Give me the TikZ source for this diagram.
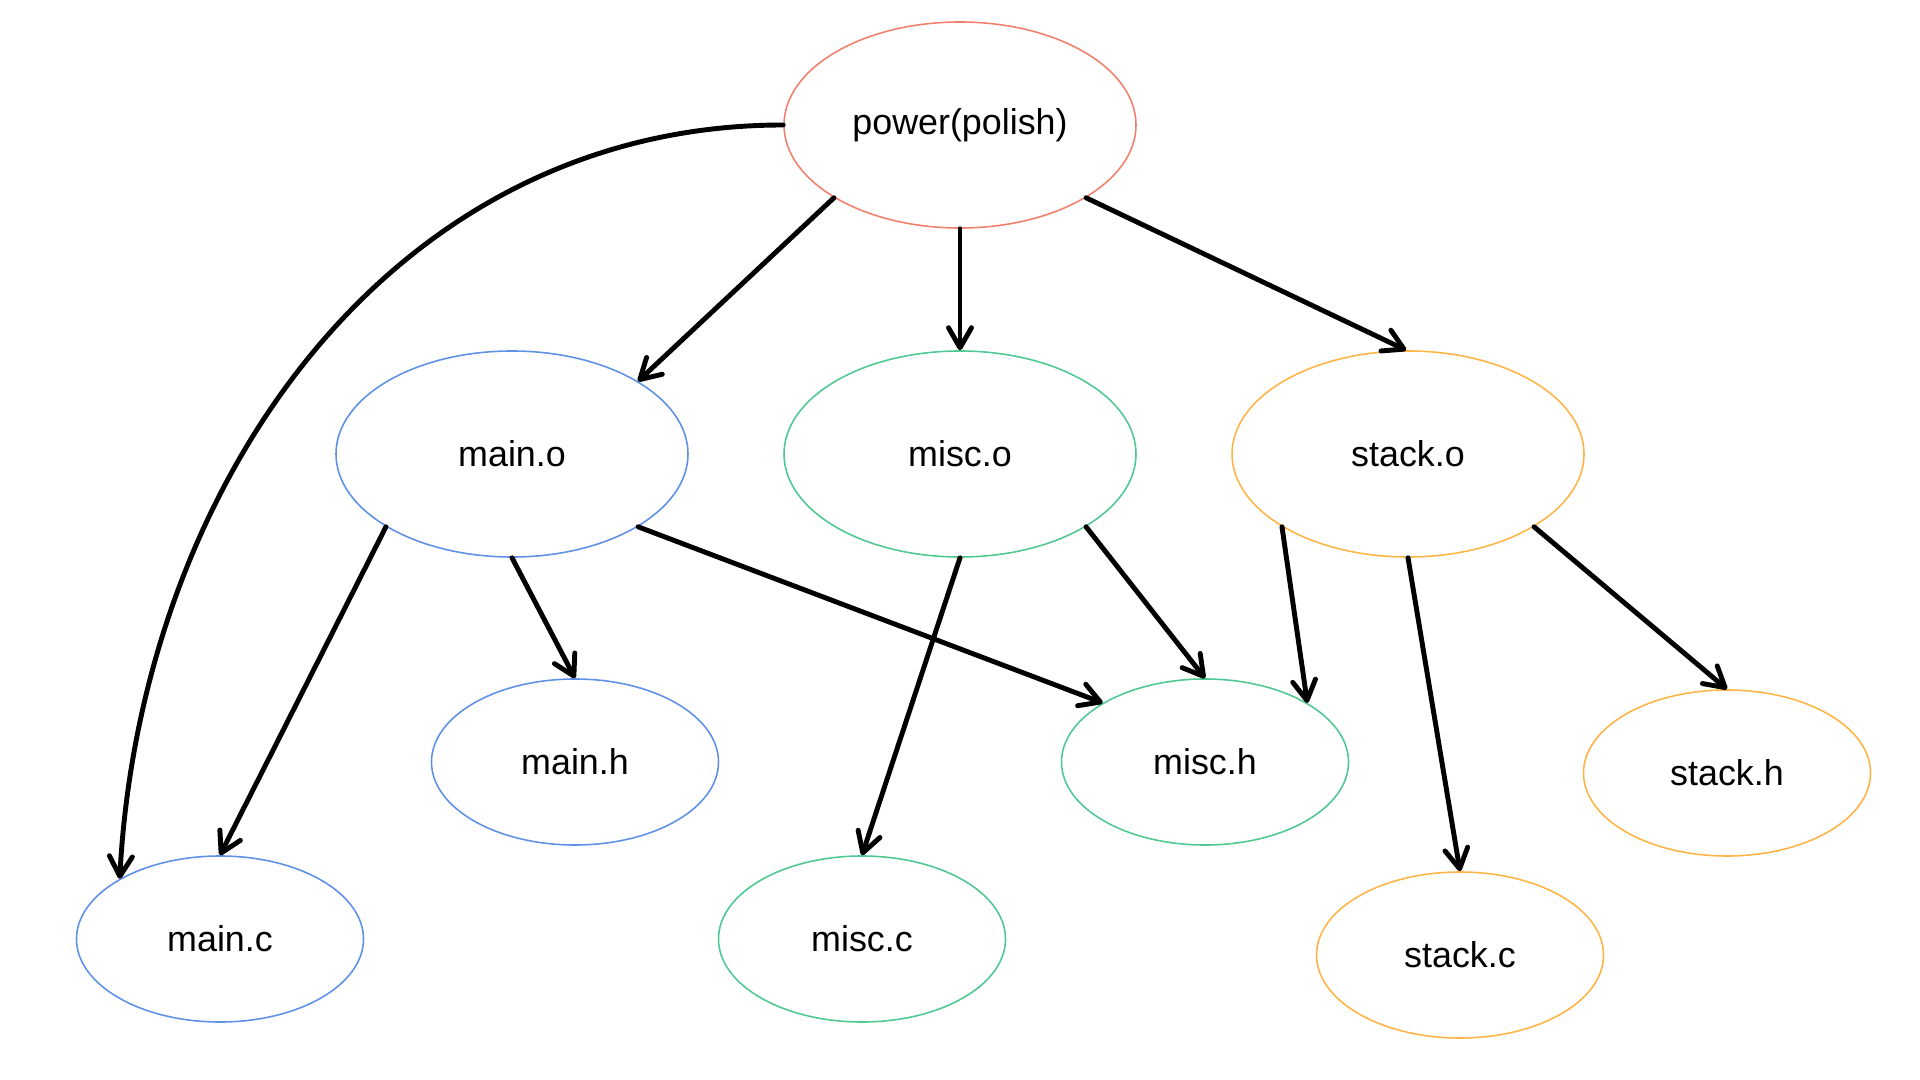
\documentclass[tikz,border=0pt]{standalone}
\usepackage{fontspec}
\setmainfont{Liberation Sans}
\usepackage{xcolor}
\usepackage{tikz}
\usetikzlibrary{shapes.geometric}
\usetikzlibrary{arrows.meta}
\definecolor{topred}{RGB}{240,128,110}
\definecolor{mainblue}{RGB}{95,145,230}
\definecolor{miscgreen}{RGB}{80,200,145}
\definecolor{stackorange}{RGB}{255,180,70}

\begin{document}
\begin{tikzpicture}[bignode/.style={ellipse,draw,line width=0.45pt,inner sep=0pt,minimum width=3.52cm,minimum height=2.06cm,font=\fontsize{10.2}{12}\selectfont},
	leaf/.style={bignode,minimum width=2.87cm,minimum height=1.66cm},
	dep/.style={->,line width=1.4pt,line cap=round},
	>={Straight Barb[length=2mm,width=2.3mm,round]}]
	 \useasboundingbox (0,0) rectangle (19.2,-10.8);
	 \node at (9.60,-1.25) [bignode,topred] (power) {\textcolor{black}{power(polish)}};

	 \node at (5.12,-4.54) [bignode,mainblue] (maino) {\textcolor{black}{main.o}};
	 \node at (9.60,-4.54) [bignode,miscgreen] (misco) {\textcolor{black}{misc.o}};
	 \node at (14.08,-4.54) [bignode,stackorange] (stacko) {\textcolor{black}{stack.o}};

	 \node at (5.75,-7.62) [leaf,mainblue] (mainh) {\textcolor{black}{main.h}};
	 \node at (12.05,-7.62) [leaf,miscgreen] (misch) {\textcolor{black}{misc.h}};
	 \node at (17.27,-7.73) [leaf,stackorange] (stackh) {\textcolor{black}{stack.h}};

	 \node at (2.20,-9.39) [leaf,mainblue] (mainc) {\textcolor{black}{main.c}};
	 \node at (8.62,-9.39) [leaf,miscgreen] (miscc) {\textcolor{black}{misc.c}};
	 \node at (14.60,-9.55) [leaf,stackorange] (stackc) {\textcolor{black}{stack.c}};

	 \draw[dep] (power.west) to[out=180,in=87] (mainc.149);
	 \draw[dep] (power.210) -- (maino.30);
	 \draw[dep] (power.south) -- (misco.north);
	 \draw[dep] (power.330) -- (stacko.91);

	 \draw[dep] (maino.210) -- (mainc.north);
	 \draw[dep] (maino.south) -- (mainh.north);
	 \draw[dep] (maino.330) -- (misch.150);

	 \draw[dep] (misco.south) -- (miscc.north);
	 \draw[dep] (misco.330) -- (misch.north);

	 \draw[dep] (stacko.210) -- (misch.30);
	 \draw[dep] (stacko.south) -- (stackc.north);
	 \draw[dep] (stacko.330) -- (stackh.north);
\end{tikzpicture}
\end{document}
